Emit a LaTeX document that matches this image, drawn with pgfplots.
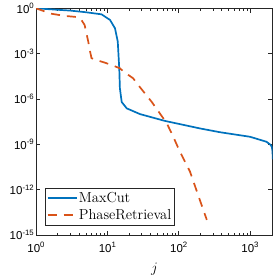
\documentclass[border=0pt]{standalone}
\usepackage{pgfplots}
\pgfplotsset{compat=1.18}
\usepackage{fontspec}
\newfontfamily\ticksans{Liberation Sans}
\definecolor{mblue}{rgb}{0,0.447,0.741}
\definecolor{morange}{rgb}{0.85,0.325,0.098}
\definecolor{axgray}{rgb}{0.15,0.15,0.15}
\newcommand\tl[1]{{\ticksans\fontsize{11.5}{13}\selectfont 10\raisebox{0.72ex}{\fontsize{7.8}{9}\selectfont #1}}}
\pgfplotsset{limg/.style={legend image code/.code={\draw[##1] (0pt,0pt) -- (29pt,0pt);}}}
\begin{document}
\begin{tikzpicture}
\begin{axis}[name=ax, scale only axis, width=236.7pt, height=226.7pt,
  xmode=log, ymode=log, xmin=1, xmax=2080, ymin=1e-15, ymax=1,
  xtick={1,10,100,1000}, xticklabels={\tl{0},\tl{1},\tl{2},\tl{3}},
  ytick={1e-15,1e-12,1e-9,1e-6,1e-3,1},
  yticklabels={\tl{-15},\tl{-12},\tl{-9},\tl{-6},\tl{-3},\tl{0}},
  yminorticks=false,
  tick align=inside, major tick length=4.5pt, minor tick length=2.5pt,
  axis line style={axgray, line width=0.5pt}, tick style={axgray, line width=0.4pt},
  xticklabel style={yshift=-4pt},
  yticklabel style={inner xsep=2pt},
  xlabel={$j$},
  xlabel style={font=\fontsize{15}{17}\selectfont, at={(axis description cs:0.5,0)}, anchor=center, yshift=-34pt},
  legend style={at={(axis description cs:0,0)}, anchor=south west, xshift=9pt, yshift=9.7pt,
    draw=axgray, font=\fontsize{14.5}{16}\selectfont, inner xsep=1.5pt, inner ysep=2.5pt,
    nodes={inner xsep=1.5pt, inner ysep=1.5pt}, row sep=2.5pt},
  legend cell align=left,
]
\addplot[mblue, line width=1.7pt, limg] coordinates {
(1,1) (2,0.8) (3,0.708) (5,0.55) (8.3,0.398) (10.9,0.170) (12.8,0.0479) (14,6.31e-3)
(14.7,1e-4) (15,5.01e-6) (15.9,6.31e-7) (18.7,2.40e-7) (28.7,1e-7) (64,3.55e-8)
(200,1.12e-8) (380,6.31e-9) (1000,3.16e-9) (1700,1.48e-9) (1960,8.91e-10)
(2030,6.3e-10) (2070,3.16e-10) (2080,1e-10)
};
\addlegendentry{MaxCut}
\addplot[morange, line width=1.7pt, dash pattern=on 9pt off 7pt, limg] coordinates {
(1,1) (1.6,0.447) (2.5,0.316) (3.8,0.263) (4.3,0.178) (4.8,0.0794) (5.4,6.31e-3)
(5.7,1.58e-3) (6,5.01e-4) (7,3.80e-4) (9,2.63e-4) (11.5,1.78e-4) (15,1.07e-4)
(17,6.31e-5) (23,2.34e-5) (26,1.07e-5) (42,6.31e-7) (68,2.51e-8) (84,3.16e-9)
(102,3.98e-10) (144,1.58e-11) (200,1.82e-13) (248,1e-14)
};
\addlegendentry{PhaseRetrieval}
\end{axis}
\path (ax.south west) ++(-36pt,-44.3pt) coordinate (bl);
\path (ax.north east) ++(7.3pt,6pt) coordinate (tr);
\path (bl) rectangle (tr);
\end{tikzpicture}
\end{document}
